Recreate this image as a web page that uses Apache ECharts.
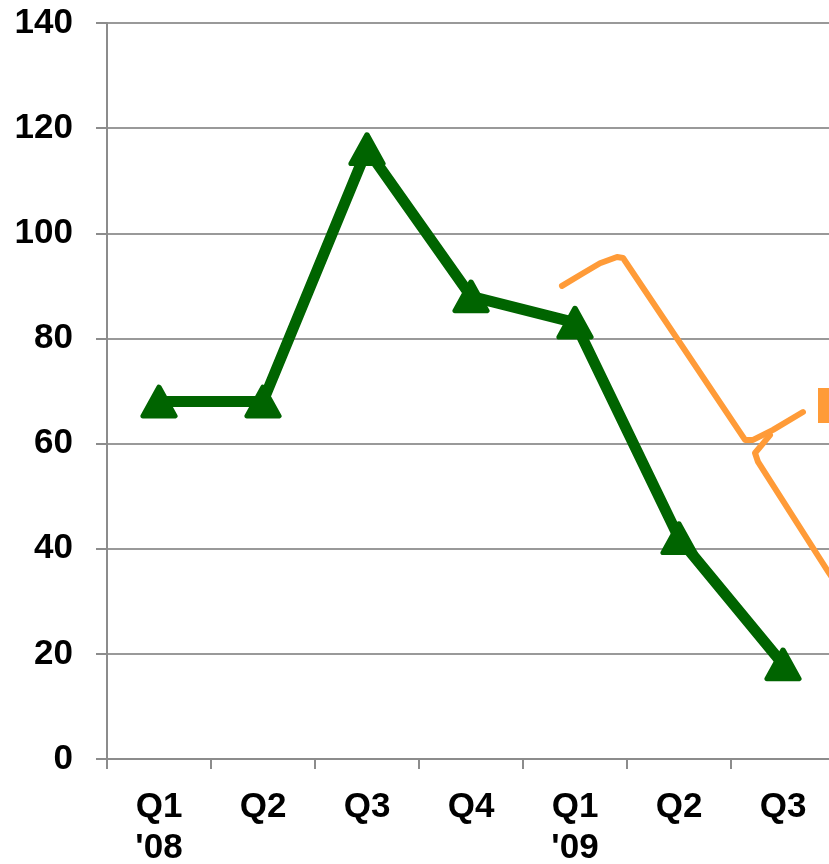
<!DOCTYPE html>
<html>
<head>
<meta charset="utf-8">
<script src="https://cdn.jsdelivr.net/npm/echarts@6/dist/echarts.min.js"></script>
<style>
  html, body { margin: 0; padding: 0; background: #fff; }
  #chart { width: 829px; height: 864px; }
</style>
</head>
<body>
<div id="chart"></div>
<script>
// quarters on the x axis
const quarters = ["Q1\n'08", 'Q2', 'Q3', 'Q4', "Q1\n'09", 'Q2', 'Q3'];
// green series values
const values = [68, 68, 116, 88, 83, 42, 18];
// y axis range
const yMin = 0, yMax = 140, yStep = 20;
// hand-drawn orange annotation, [band position, value]
const sketchA = [[4.375, 90.0], [4.577, 92.4], [4.74, 94.3], [4.904, 95.5], [4.962, 95.3],
  [6.135, 60.7], [6.212, 60.7], [6.404, 62.6], [6.692, 66.0]];
const sketchB = [[6.375, 61.6], [6.231, 58.2], [6.26, 56.5], [6.942, 35.4], [7.0, 33.7]];

const chart = echarts.init(document.getElementById('chart'));

const orange = '#ff9b38';
const green = '#006400';
const gray = '#8c8c8c';

chart.setOption({
  animation: false,
  // plot runs past the right edge of the picture
  grid: { left: 107, top: 23, width: 728, height: 736, outerBoundsMode: 'none' },
  xAxis: [
    {
      type: 'category',
      data: quarters,
      boundaryGap: true,
      axisLine: { lineStyle: { color: gray, width: 2 } },
      axisTick: { show: true, length: 10, lineStyle: { color: gray, width: 2 } },
      axisLabel: {
        color: '#000',
        fontFamily: 'Liberation Sans, Arial, sans-serif',
        fontWeight: 'bold',
        fontSize: 35,
        lineHeight: 41,
        margin: 28,
        interval: 0
      }
    },
    { type: 'value', min: 0, max: 7, show: false }
  ],
  yAxis: {
    type: 'value',
    min: yMin,
    max: yMax,
    interval: yStep,
    axisLine: { show: true, lineStyle: { color: gray, width: 2 } },
    axisTick: { show: true, length: 11, lineStyle: { color: gray, width: 2 } },
    splitLine: { lineStyle: { color: '#999', width: 2 } },
    axisLabel: {
      color: '#000',
      fontFamily: 'Liberation Sans, Arial, sans-serif',
      fontWeight: 'bold',
      fontSize: 35,
      margin: 34
    }
  },
  series: [
    {
      type: 'line',
      data: values,
      lineStyle: { color: green, width: 11 },
      symbol: 'triangle',
      symbolSize: [32, 29],
      itemStyle: { color: green, borderColor: green, borderWidth: 5, borderJoin: 'round' },
      z: 3
    },
    {
      type: 'line',
      xAxisIndex: 1,
      data: sketchA,
      showSymbol: false,
      lineStyle: { color: orange, width: 6, cap: 'round', join: 'round' },
      z: 4
    },
    {
      type: 'line',
      xAxisIndex: 1,
      data: sketchB,
      showSymbol: false,
      lineStyle: { color: orange, width: 6, cap: 'round', join: 'round' },
      z: 4
    }
  ],
  graphic: [
    { type: 'rect', shape: { x: 818, y: 388, width: 11, height: 35 }, style: { fill: orange } }
  ]
});
</script>
</body>
</html>
